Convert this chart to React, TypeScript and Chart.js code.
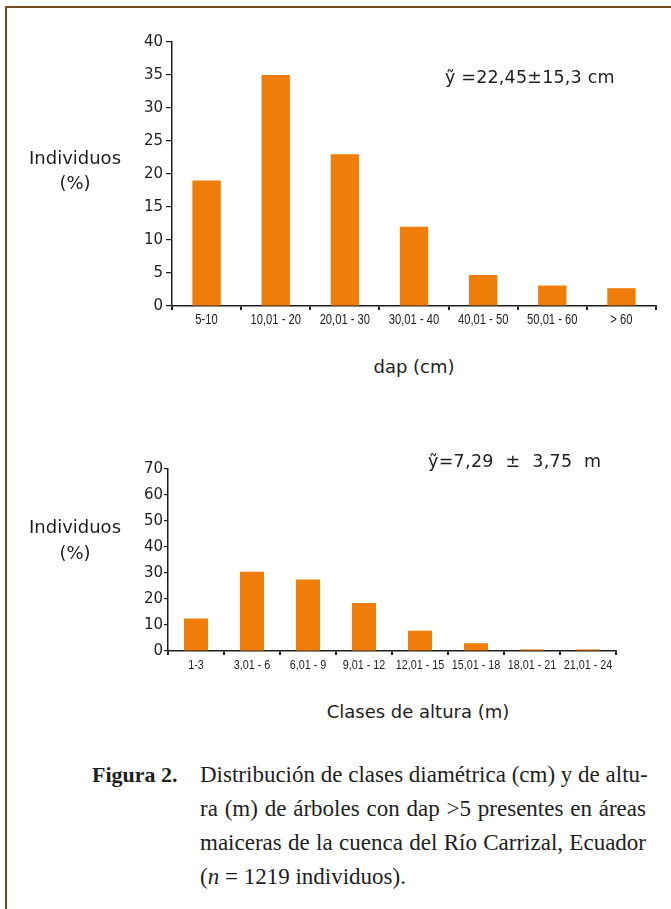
import React, { useEffect, useRef } from "react";
import { Chart, registerables } from "chart.js";

Chart.register(...registerables);

const dapLabels = ["5-10", "10,01 - 20", "20,01 - 30", "30,01 - 40", "40,01 - 50", "50,01 - 60", "> 60"];
const dapValues = [19, 35, 23, 12, 4.7, 3.1, 2.7];
const dapMax = 40;
const dapStep = 5;

const alturaLabels = ["1-3", "3,01 - 6", "6,01 - 9", "9,01 - 12", "12,01 - 15", "15,01 - 18", "18,01 - 21", "21,01 - 24"];
const alturaValues = [12.5, 30.5, 27.5, 18.5, 7.8, 3, 0.6, 0.6];
const alturaMax = 70;
const alturaStep = 10;

const captionLines = [
  "Distribución de clases diamétrica (cm) y de altu-",
  "ra (m) de árboles con dap >5 presentes en áreas",
  "maiceras de la cuenca del Río Carrizal, Ecuador",
];

const BAR = "#EF7D0A";
const INK = "#1e1e1e";
const SANS = "'DejaVu Sans', sans-serif";
const SERIF = "'Liberation Serif', 'Times New Roman', serif";

type ChartProps = {
  labels: string[];
  values: number[];
  max: number;
  step: number;
  left: number;
  top: number;
  width: number;
  height: number;
  yWidth: number;
  xHeight: number;
  padTop: number;
  padRight: number;
  barPct: number;
  yFont: number;
  xFont: number;
  yTickLen: number;
  yPad: number;
};

// draws the category labels in a narrow (horizontally compressed) face
const narrowLabels = {
  id: "narrowLabels",
  afterDraw(chart: any, _args: any, opts: any) {
    const s = chart.scales.x;
    const ctx = chart.ctx;
    const labels: string[] = chart.data.labels;
    ctx.save();
    ctx.font = `${opts.size}px 'Liberation Sans', Arial, sans-serif`;
    ctx.fillStyle = INK;
    ctx.textAlign = "center";
    ctx.textBaseline = "middle";
    labels.forEach((lab, i) => {
      const x = s.getPixelForValue(i);
      ctx.save();
      ctx.translate(x, s.top + opts.offset);
      ctx.scale(opts.squeeze, 1);
      ctx.fillText(lab, 0, 0);
      ctx.restore();
    });
    ctx.restore();
  },
};

function BarChart(p: ChartProps) {
  const ref = useRef<HTMLCanvasElement | null>(null);
  useEffect(() => {
    if (!ref.current) return;
    const chart = new Chart(ref.current, {
      type: "bar",
      data: {
        labels: p.labels,
        datasets: [
          {
            data: p.values,
            backgroundColor: BAR,
            borderWidth: 0,
            categoryPercentage: 1,
            barPercentage: p.barPct,
          },
        ],
      },
      plugins: [narrowLabels as any],
      options: {
        animation: false,
        responsive: false,
        maintainAspectRatio: false,
        layout: { padding: { top: p.padTop, right: p.padRight, left: 0, bottom: 0 } },
        plugins: {
          legend: { display: false },
          tooltip: { enabled: false },
          title: { display: false },
          narrowLabels: { size: p.xFont, squeeze: 0.8, offset: 14.5 },
        } as any,
        scales: {
          x: {
            type: "category",
            offset: true,
            afterFit: (s: any) => {
              s.height = p.xHeight;
            },
            grid: {
              offset: true,
              drawOnChartArea: false,
              drawTicks: true,
              tickLength: 4,
              color: INK,
              lineWidth: 2,
            },
            border: { display: true, color: INK, width: 1.5 },
            ticks: { display: false, autoSkip: false },
          },
          y: {
            min: 0,
            max: p.max,
            afterFit: (s: any) => {
              s.width = p.yWidth;
            },
            grid: {
              drawOnChartArea: false,
              drawTicks: true,
              tickLength: p.yTickLen,
              color: INK,
              lineWidth: 1.2,
            },
            border: { display: true, color: INK, width: 1.5 },
            ticks: {
              stepSize: p.step,
              color: INK,
              font: { family: SANS, size: p.yFont },
              padding: p.yPad,
            },
          },
        },
      },
    });
    return () => chart.destroy();
  }, []);
  return (
    <canvas
      ref={ref}
      width={p.width}
      height={p.height}
      style={{ position: "absolute", left: p.left, top: p.top, width: p.width, height: p.height }}
    />
  );
}

const txt = (extra: React.CSSProperties): React.CSSProperties => ({
  position: "absolute",
  fontFamily: SANS,
  color: INK,
  whiteSpace: "pre",
  lineHeight: 1,
  ...extra,
});

export default function App() {
  return (
    <div
      style={{
        position: "absolute",
        left: 0,
        top: 0,
        width: 671,
        height: 909,
        background: "#fff",
        overflow: "hidden",
      }}
    >
      {/* frame */}
      <div style={{ position: "absolute", left: 5, top: 6, width: 666, height: 2, background: "#7b4a1e" }} />
      <div style={{ position: "absolute", left: 5, top: 6, width: 2, height: 903, background: "#7b4a1e" }} />

      <BarChart
        labels={dapLabels}
        values={dapValues}
        max={dapMax}
        step={dapStep}
        left={100}
        top={30}
        width={571}
        height={310}
        yWidth={72}
        xHeight={34}
        padTop={12}
        padRight={15}
        barPct={0.41}
        yFont={15}
        xFont={14}
        yTickLen={6}
        yPad={3}
      />
      <div style={txt({ left: 0, width: 150, top: 149, fontSize: 18, textAlign: "center" })}>Individuos</div>
      <div style={txt({ left: 0, width: 150, top: 174, fontSize: 18, textAlign: "center" })}>(%)</div>
      <div style={txt({ left: 445, top: 69, fontSize: 17.5, letterSpacing: 0.2 })}>ỹ =22,45±15,3 cm</div>
      <div style={txt({ left: 314, width: 200, top: 358, fontSize: 18, textAlign: "center" })}>dap (cm)</div>

      <BarChart
        labels={alturaLabels}
        values={alturaValues}
        max={alturaMax}
        step={alturaStep}
        left={100}
        top={455}
        width={571}
        height={230}
        yWidth={68}
        xHeight={34}
        padTop={14}
        padRight={55}
        barPct={0.43}
        yFont={15}
        xFont={13.5}
        yTickLen={4}
        yPad={1}
      />
      <div style={txt({ left: 0, width: 150, top: 518, fontSize: 18, textAlign: "center" })}>Individuos</div>
      <div style={txt({ left: 0, width: 150, top: 544, fontSize: 18, textAlign: "center" })}>(%)</div>
      <div style={txt({ left: 428, top: 453, fontSize: 17.5, letterSpacing: 0.3 })}>ỹ=7,29  ±  3,75  m</div>
      <div style={txt({ left: 268, width: 300, top: 703, fontSize: 18, textAlign: "center" })}>Clases de altura (m)</div>

      {/* caption */}
      <div
        style={{
          position: "absolute",
          left: 92,
          top: 758,
          fontFamily: SERIF,
          fontSize: 22,
          fontWeight: "bold",
          color: INK,
          lineHeight: "34px",
          whiteSpace: "nowrap",
        }}
      >
        Figura 2.
      </div>
      {captionLines.map((line, i) => (
        <div
          key={i}
          style={{
            position: "absolute",
            left: 200,
            top: 758 + i * 34,
            width: 446,
            fontFamily: SERIF,
            fontSize: 23,
            color: INK,
            lineHeight: "34px",
            whiteSpace: "nowrap",
            textAlign: "justify",
            textAlignLast: "justify",
          }}
        >
          {line}
        </div>
      ))}
      <div
        style={{
          position: "absolute",
          left: 200,
          top: 758 + 3 * 34,
          fontFamily: SERIF,
          fontSize: 23,
          color: INK,
          lineHeight: "34px",
          whiteSpace: "nowrap",
        }}
      >
        (<i>n</i> = 1219 individuos).
      </div>
    </div>
  );
}
